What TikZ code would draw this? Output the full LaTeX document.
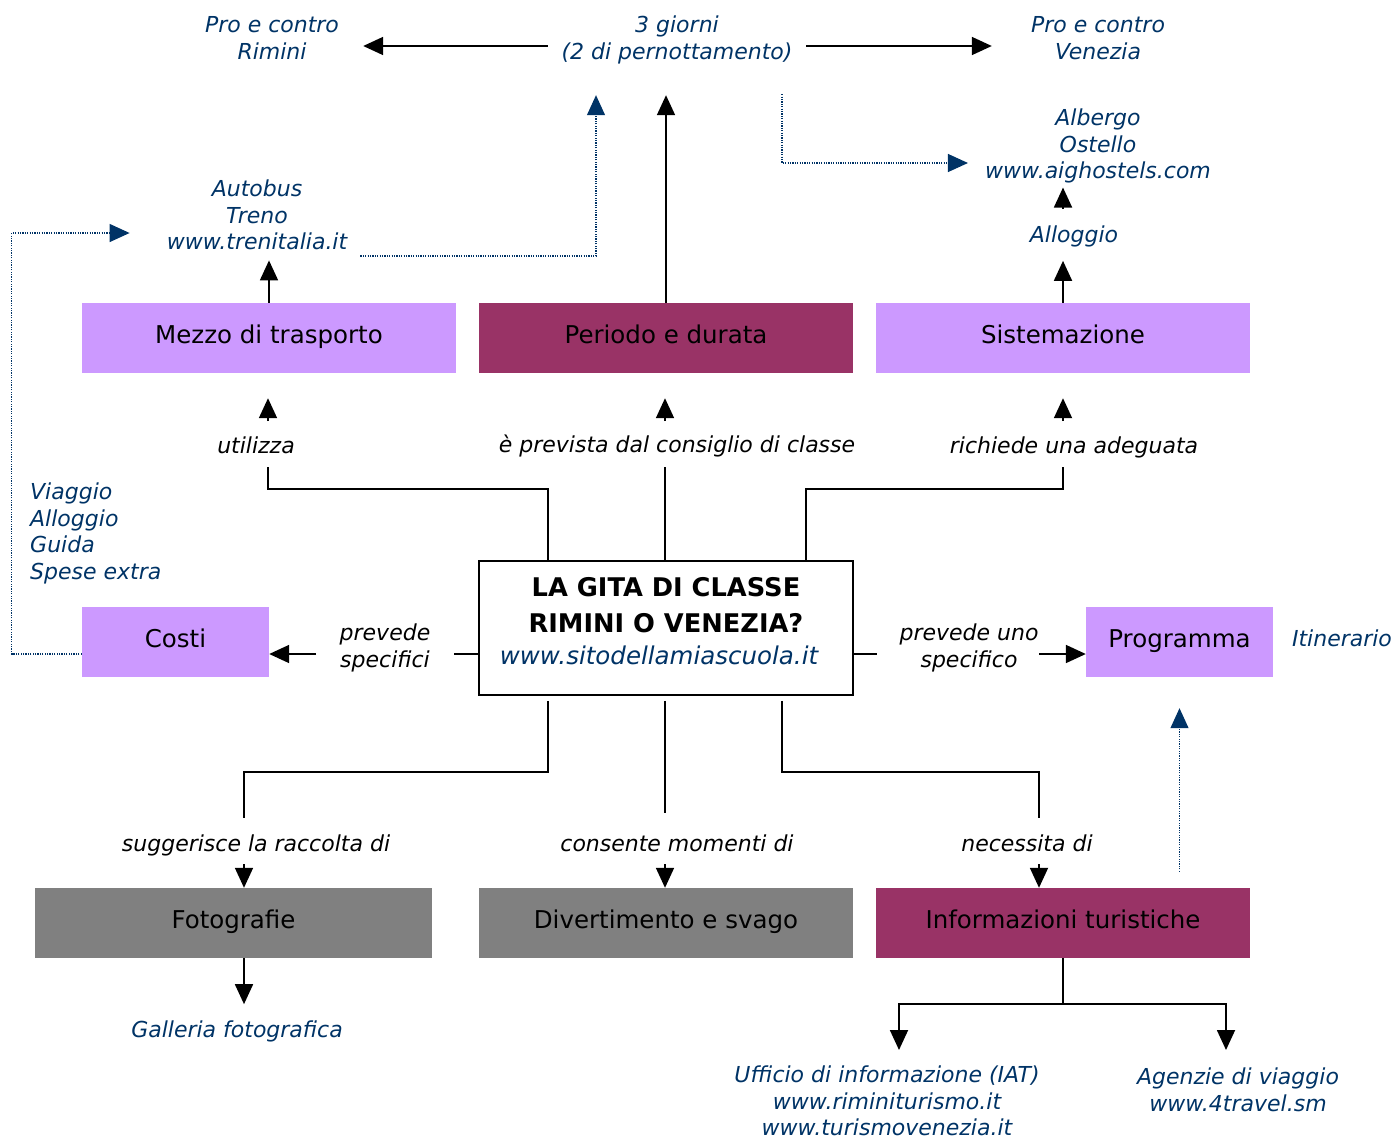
\documentclass[tikz,border=0pt]{standalone}
\usepackage{fontspec}
\setmainfont{DejaVu Sans}
\usetikzlibrary{arrows.meta}
\definecolor{navy}{HTML}{003366}
\definecolor{lilac}{HTML}{CC99FF}
\definecolor{maroon}{HTML}{993366}
\definecolor{boxgray}{HTML}{808080}
\newcommand{\bxf}{\fontsize{24.5}{29}\selectfont}
\newcommand{\lbf}{\fontsize{22}{26.7}\selectfont\itshape}
\begin{document}
\begin{tikzpicture}[x=1pt,y=-1pt,
  box/.style={minimum width=374pt,minimum height=70pt,inner sep=0pt,font=\bxf,text height=18pt,text depth=7pt},
  lbl/.style={font=\lbf,align=center,inner sep=0pt},
  note/.style={lbl,text=navy},
  ln/.style={line width=1.8pt},
  arr/.style={line width=1.8pt,-{Triangle[width=18pt,length=20pt]}},
  dot/.style={navy,line width=1.2pt,dash pattern=on 1.2pt off 1.2pt,-{Triangle[width=18pt,length=20pt]}}]
\useasboundingbox (0,0) rectangle (1397,1140);

% text notes
\node[note,minimum width=182pt] (rimini) at (272,38) {Pro e contro\\Rimini};
\node[note,minimum width=258pt] (giorni) at (677,40) {3 giorni\\(2 di pernottamento)};
\node[note,minimum width=212pt] (venezia) at (1098,38) {Pro e contro\\Venezia};
\node[note] (autobus) at (257,215) {Autobus\\Treno\\www.trenitalia.it};
\node[note] (albergo) at (1098,146) {Albergo\\Ostello\\www.aighostels.com};
\node[note] (alloggio) at (1074,236) {Alloggio};
\node[note,align=left,anchor=west] (voci) at (30,533.5) {Viaggio\\Alloggio\\Guida\\Spese extra};
\node[note] (itin) at (1342,638) {Itinerario};
\node[note] (galleria) at (237,1031) {Galleria fotografica};
\node[note] (ufficio) at (887,1101) {Ufficio di informazione (IAT)\\www.riminiturismo.it\\www.turismovenezia.it};
\node[note] (agenzie) at (1238,1090) {Agenzie di viaggio\\www.4travel.sm};

% connector labels
\node[lbl] (lutil) at (256,445) {utilizza};
\node[lbl] (lprev) at (677,446) {è prevista dal consiglio di classe};
\node[lbl] (lrich) at (1074,447) {richiede una adeguata};
\node[lbl] (lspec) at (385,648) {prevede\\specifici};
\node[lbl] (luno) at (969,648) {prevede uno\\specifico};
\node[lbl] (lsugg) at (256,845) {suggerisce la raccolta di};
\node[lbl] (lcons) at (677,843) {consente momenti di};
\node[lbl] (lnec) at (1027,843) {necessita di};

% boxes
\node[box,fill=lilac] (mezzo) at (269,338) {Mezzo di trasporto};
\node[box,fill=maroon] (periodo) at (666,338) {Periodo e durata};
\node[box,fill=lilac] (sistem) at (1063,338) {Sistemazione};
\node[box,fill=lilac,minimum width=187pt] (costi) at (175.5,642) {Costi};
\node[box,fill=lilac,minimum width=187pt] (prog) at (1179.5,642) {Programma};
\node[box,fill=boxgray,minimum width=397pt] (foto) at (233.5,923) {Fotografie};
\node[box,fill=boxgray] (divert) at (666,923) {Divertimento e svago};
\node[box,fill=maroon] (info) at (1063,923) {Informazioni turistiche};
\node[box,draw,line width=1.8pt,fill=white,minimum height=134pt,align=center,
  text height=,text depth=14pt,
  font=\fontsize{25.7}{32}\selectfont\bfseries] (central) at (666,628)
  {LA GITA DI CLASSE\\[4pt]RIMINI O VENEZIA?\\{\mdseries\itshape\fontsize{24.5}{32}\selectfont\color{navy}www.sitodellamiascuola.it\kern14pt}};

% stub coordinates around labels
\coordinate (u1) at (268,421); \coordinate (u2) at (268,467);
\coordinate (p1) at (665,421); \coordinate (p2) at (665,467);
\coordinate (r1) at (1063,421); \coordinate (r2) at (1063,467);
\coordinate (sp1) at (454,654); \coordinate (sp2) at (316,654);
\coordinate (un1) at (877,654); \coordinate (un2) at (1039,654);
\coordinate (s1) at (244,818); \coordinate (s2) at (244,864);
\coordinate (c1) at (665,813); \coordinate (c2) at (665,864);
\coordinate (n1) at (1039,818); \coordinate (n2) at (1039,864);
\coordinate (f1) at (899,1050); \coordinate (f2) at (1226,1050);

% top row
\draw[arr] ([yshift=-6pt]giorni.west) -- ([yshift=-8pt]rimini.east);
\draw[arr] ([yshift=-6pt]giorni.east) -- ([yshift=-8pt]venezia.west);

% upward from boxes
\draw[arr,shorten >=10pt] (mezzo.north) -- (mezzo.north |- autobus.south);
\draw[arr,shorten >=31pt] (periodo.north) -- (periodo.north |- giorni.south);
\draw[arr,shorten >=14pt] (sistem.north) -- (sistem.north |- alloggio.south);
\draw[arr,shorten <=16pt,shorten >=4pt] (sistem.north |- alloggio.north) -- (sistem.north |- albergo.south);

% dotted links
\draw[dot,shorten <=13pt,shorten >=31pt] ([yshift=-41pt]autobus.east) -| ([xshift=-81pt]giorni.south);
\draw[dot,shorten <=30pt,shorten >=17pt] ([xshift=105pt]giorni.south) |- ([yshift=-17pt]albergo.west);
\draw[dot,shorten >=37pt] ([yshift=-12pt]costi.west) -- ++(-70,0) |- ([yshift=-18pt]autobus.west);
\draw[dot,shorten <=16pt,shorten >=31pt] (prog.south |- info.north) -- (prog.south);

% central upward
\draw[arr,shorten >=25pt] (u1) -- (u1 |- mezzo.south);
\draw[arr,shorten >=25pt] (p1) -- (p1 |- periodo.south);
\draw[arr,shorten >=25pt] (r1) -- (r1 |- sistem.south);
\draw[ln] ([xshift=-118pt]central.north) -- ++(0,-71) -| (u2);
\draw[ln] (p2 |- central.north) -- (p2);
\draw[ln] ([xshift=140pt]central.north) -- ++(0,-71) -| (r2);

% central sideways
\draw[ln] ([yshift=-26pt]central.west) -- (sp1);
\draw[arr] (sp2) -- (sp2 -| costi.east);
\draw[ln] ([yshift=-26pt]central.east) -- (un1);
\draw[arr] (un2) -- (un2 -| prog.west);

% central downward
\draw[ln,shorten <=5pt] ([xshift=-118pt]central.south) -- ++(0,76) -| (s1);
\draw[ln,shorten <=5pt] (c1 |- central.south) -- (c1);
\draw[ln,shorten <=5pt] ([xshift=116pt]central.south) -- ++(0,76) -| (n1);
\draw[arr] (s2) -- (s2 |- foto.north);
\draw[arr] (c2) -- (c2 |- divert.north);
\draw[arr] (n2) -- (n2 |- info.north);

% below boxes
\draw[arr,shorten >=16pt] (s2 |- foto.south) -- (s2 |- galleria.north);
\draw[ln] (info.south) -- ++(0,46) coordinate (ib);
\draw[arr] (ib) -| (f1);
\draw[arr] (ib) -| (f2);
\end{tikzpicture}
\end{document}
